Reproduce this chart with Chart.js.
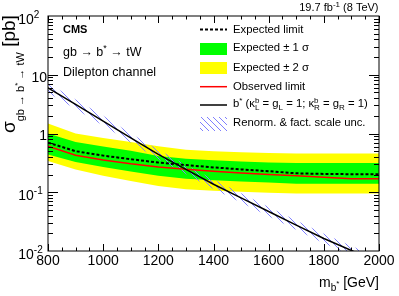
<!DOCTYPE html>
<html>
<head>
<meta charset="utf-8">
<script src="https://cdn.jsdelivr.net/npm/chart.js@4.4.0/dist/chart.umd.min.js"></script>
<style>
html, body { margin: 0; padding: 0; background: #fff; }
canvas { display: block; }
</style>
</head>
<body>
<canvas id="chart" width="399" height="296"></canvas>
<script>
// b* mass points (GeV)
const masses = [800, 900, 1000, 1100, 1200, 1300, 1400, 1500, 1600, 1700, 1800, 1900, 2000];
// limits on cross section (pb)
const expected = [0.70, 0.50, 0.42, 0.365, 0.32, 0.29, 0.265, 0.245, 0.228, 0.21, 0.205, 0.203, 0.203];
const observed = [0.61, 0.425, 0.355, 0.305, 0.27, 0.247, 0.228, 0.213, 0.200, 0.19, 0.18, 0.17, 0.17];
const plus1 = [1.0, 0.716, 0.6, 0.51, 0.415, 0.37, 0.35, 0.335, 0.322, 0.315, 0.315, 0.315, 0.315];
const minus1 = [0.44, 0.327, 0.27, 0.225, 0.19, 0.17, 0.16, 0.152, 0.146, 0.14, 0.14, 0.14, 0.14];
const plus2 = [1.48, 1.0, 0.84, 0.72, 0.605, 0.53, 0.5, 0.48, 0.465, 0.455, 0.455, 0.455, 0.455];
const minus2 = [0.34, 0.243, 0.19, 0.155, 0.128, 0.113, 0.106, 0.102, 0.098, 0.095, 0.095, 0.095, 0.095];
// theory b* cross section and scale uncertainty
const theory = [6.0, 3.13, 1.63, 0.84, 0.44, 0.245, 0.137, 0.080, 0.047, 0.0275, 0.0163, 0.0102, 0.0064];
const theoryUp = [7.2, 3.8, 2.0, 1.0, 0.53, 0.295, 0.165, 0.096, 0.056, 0.033, 0.0196, 0.0122, 0.0077];
const theoryDown = [5.0, 2.6, 1.37, 0.70, 0.365, 0.204, 0.114, 0.067, 0.039, 0.023, 0.0136, 0.0085, 0.0053];

const xTickLabels = [800, 1000, 1200, 1400, 1600, 1800, 2000];
const yTickValues = [100, 10, 1, 0.1, 0.01];
const yTickBase = ['10', '10', '1', '10', '10'];
const yTickExp = ['2', '', '', '-1', '-2'];

const FONT = '"Liberation Sans", Arial, Helvetica, sans-serif';

function pts(vals) {
    return masses.map((m, i) => ({ x: m, y: vals[i] }));
}

function hatchPattern() {
    const c = document.createElement('canvas');
    c.width = 6; c.height = 6;
    const p = c.getContext('2d');
    p.strokeStyle = '#7f7fff';
    p.lineWidth = 1;
    p.beginPath();
    p.moveTo(-1, -1); p.lineTo(7, 7);
    p.moveTo(-1, 5); p.lineTo(1, 7);
    p.moveTo(5, -1); p.lineTo(7, 1);
    p.stroke();
    return p.createPattern(c, 'repeat');
}
const hatch = hatchPattern();

function setFont(ctx, size, bold) {
    ctx.font = (bold ? 'bold ' : '') + size + 'px ' + FONT;
}

// draws a list of text pieces with sub/superscripts
function drawRich(ctx, x, y, parts, align) {
    let total = 0;
    parts.forEach(p => {
        setFont(ctx, p.s, p.b);
        if (p.up !== undefined) {
            p.w = Math.max(ctx.measureText(p.up).width, ctx.measureText(p.dn).width);
        } else {
            p.w = ctx.measureText(p.t).width;
        }
        total += p.w;
    });
    let cx = x;
    if (align === 'right') cx = x - total;
    if (align === 'center') cx = x - total / 2;
    ctx.textAlign = 'left';
    ctx.textBaseline = 'alphabetic';
    parts.forEach(p => {
        setFont(ctx, p.s, p.b);
        if (p.up !== undefined) {
            ctx.fillText(p.up, cx, y - 4.5);
            ctx.fillText(p.dn, cx, y + 3);
        } else {
            ctx.fillText(p.t, cx, y + (p.dy || 0));
        }
        cx += p.w;
    });
}

const decorations = {
    id: 'decorations',
    afterDraw(chart) {
        const ctx = chart.ctx;
        const a = chart.chartArea;
        const xs = chart.scales.x;
        const ys = chart.scales.y;
        ctx.save();
        ctx.fillStyle = '#000';
        ctx.strokeStyle = '#000';
        ctx.lineWidth = 1;

        // frame
        ctx.strokeRect(a.left, a.top, a.right - a.left, a.bottom - a.top);

        // ticks, drawn inside the frame
        ctx.beginPath();
        for (let v = 800; v <= 2000; v += 50) {
            const px = Math.round(xs.getPixelForValue(v)) + 0.5;
            const len = (v % 200 === 0) ? 7 : 3.5;
            ctx.moveTo(px, a.bottom); ctx.lineTo(px, a.bottom - len);
            ctx.moveTo(px, a.top); ctx.lineTo(px, a.top + len);
        }
        for (let d = 0.01; d < 100; d *= 10) {
            for (let k = 1; k <= 9; k++) {
                if (k === 1 && d < 0.05) continue;
                const py = Math.round(ys.getPixelForValue(k * d)) + 0.5;
                const len = (k === 1) ? 10 : 5;
                ctx.moveTo(a.left, py); ctx.lineTo(a.left + len, py);
                ctx.moveTo(a.right, py); ctx.lineTo(a.right - len, py);
            }
        }
        ctx.stroke();

        // x tick labels
        setFont(ctx, 14);
        ctx.textAlign = 'center';
        ctx.textBaseline = 'alphabetic';
        xTickLabels.forEach(v => {
            ctx.fillText(String(v), xs.getPixelForValue(v), 265);
        });

        // y tick labels
        yTickValues.forEach((v, i) => {
            const py = ys.getPixelForValue(v);
            if (yTickExp[i] === '') {
                setFont(ctx, 14);
                ctx.textAlign = 'right';
                ctx.fillText(yTickBase[i], 47, py + 6.8);
            } else {
                setFont(ctx, 14);
                ctx.textAlign = 'right';
                ctx.fillText(yTickBase[i], 33.8, py + 7.5);
                setFont(ctx, 10);
                ctx.textAlign = 'left';
                ctx.fillText(yTickExp[i], 33.8, py + 1.5);
            }
        });

        // axis titles
        drawRich(ctx, 379, 287, [
            { t: 'm', s: 14 },
            { t: 'b', s: 10, dy: 3.5 },
            { t: '*', s: 8, dy: -1 },
            { t: ' [GeV]', s: 14 }
        ], 'right');

        ctx.save();
        ctx.translate(15, 133);
        ctx.rotate(-Math.PI / 2);
        drawRich(ctx, 0, 0, [
            { t: 'σ', s: 19 },
            { t: 'gb → b', s: 11, dy: 9 },
            { t: '*', s: 8, dy: 4.5 },
            { t: ' → tW', s: 11, dy: 9 },
            { t: ' [pb]', s: 19 }
        ], 'left');
        ctx.restore();

        // lumi label
        drawRich(ctx, 378.5, 11, [
            { t: '19.7 fb', s: 11 },
            { t: '-1', s: 8, dy: -4 },
            { t: ' (8 TeV)', s: 11 }
        ], 'right');

        // text inside the frame
        drawRich(ctx, 63, 33.3, [{ t: 'CMS', s: 11, b: true }], 'left');
        drawRich(ctx, 63, 55.5, [
            { t: 'gb → b', s: 12.5 },
            { t: '*', s: 9, dy: -4.5 },
            { t: ' → tW', s: 12.5 }
        ], 'left');
        drawRich(ctx, 63, 75.7, [{ t: 'Dilepton channel', s: 12.5 }], 'left');

        // legend
        ctx.setLineDash([3, 2]);
        ctx.lineWidth = 2;
        ctx.beginPath();
        ctx.moveTo(200, 29.5); ctx.lineTo(227, 29.5);
        ctx.stroke();
        ctx.setLineDash([]);
        ctx.fillStyle = '#00ff00';
        ctx.fillRect(200, 43, 27, 12);
        ctx.fillStyle = '#ffff00';
        ctx.fillRect(200, 62, 27, 12);
        ctx.lineWidth = 1.5;
        ctx.strokeStyle = '#ff0000';
        ctx.beginPath();
        ctx.moveTo(200, 86.7); ctx.lineTo(227, 86.7);
        ctx.stroke();
        ctx.strokeStyle = '#000';
        ctx.beginPath();
        ctx.moveTo(200, 105); ctx.lineTo(227, 105);
        ctx.stroke();
        ctx.fillStyle = hatch;
        ctx.fillRect(200, 117, 27, 14);

        ctx.fillStyle = '#000';
        const fs = 11.3;
        drawRich(ctx, 233, 33.1, [{ t: 'Expected limit', s: fs }], 'left');
        drawRich(ctx, 233, 51.4, [{ t: 'Expected ± 1 σ', s: fs }], 'left');
        drawRich(ctx, 233, 71.4, [{ t: 'Expected ± 2 σ', s: fs }], 'left');
        drawRich(ctx, 233, 89.8, [{ t: 'Observed limit', s: fs }], 'left');
        drawRich(ctx, 233, 107, [
            { t: 'b', s: fs },
            { t: '*', s: 8, dy: -4 },
            { t: ' (κ', s: fs },
            { up: 'b', dn: 'L', s: 8 },
            { t: ' = g', s: fs },
            { t: 'L', s: 8, dy: 3 },
            { t: ' = 1; κ', s: fs },
            { up: 'b', dn: 'R', s: 8 },
            { t: ' = g', s: fs },
            { t: 'R', s: 8, dy: 3 },
            { t: ' = 1)', s: fs }
        ], 'left');
        drawRich(ctx, 233, 126.4, [{ t: 'Renorm. & fact. scale unc.', s: fs }], 'left');

        ctx.restore();
    }
};

const ctx = document.getElementById('chart').getContext('2d');
const chart = new Chart(ctx, {
    type: 'line',
    data: {
        datasets: [
            { label: '+2 sigma', data: pts(plus2), fill: '+1', backgroundColor: '#ffff00', borderWidth: 0, order: 9 },
            { label: '-2 sigma', data: pts(minus2), fill: false, borderWidth: 0, order: 8 },
            { label: '+1 sigma', data: pts(plus1), fill: '+1', backgroundColor: '#00ff00', borderWidth: 0, order: 7 },
            { label: '-1 sigma', data: pts(minus1), fill: false, borderWidth: 0, order: 6 },
            { label: 'scale up', data: pts(theoryUp), fill: '+1', backgroundColor: hatch, borderWidth: 0, order: 5 },
            { label: 'scale down', data: pts(theoryDown), fill: false, borderWidth: 0, order: 4 },
            { label: 'Expected limit', data: pts(expected), fill: false, borderColor: '#000', borderWidth: 2, borderDash: [3, 2], order: 3 },
            { label: 'Observed limit', data: pts(observed), fill: false, borderColor: '#ff0000', borderWidth: 1.5, order: 2 },
            { label: 'b*', data: pts(theory), fill: false, borderColor: '#000', borderWidth: 1.5, order: 1 }
        ]
    },
    options: {
        responsive: false,
        animation: false,
        devicePixelRatio: 1,
        layout: { padding: { left: 48, right: 20, top: 16, bottom: 45 } },
        elements: {
            point: { radius: 0 },
            line: { tension: 0 }
        },
        datasets: { line: { clip: 0 } },
        scales: {
            x: { type: 'linear', min: 800, max: 2000, display: false },
            y: { type: 'logarithmic', min: 0.01, max: 100, display: false }
        },
        plugins: {
            legend: { display: false },
            tooltip: { enabled: false }
        }
    },
    plugins: [decorations]
});
</script>
</body>
</html>
